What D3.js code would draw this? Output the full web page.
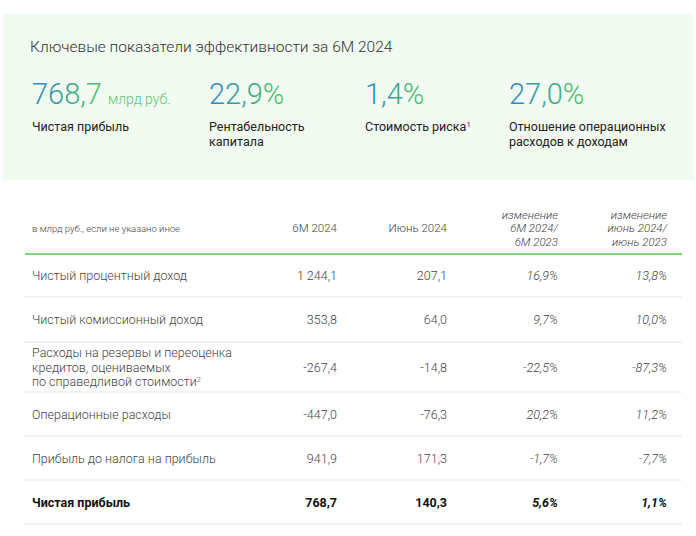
<!DOCTYPE html>
<html><head><meta charset="utf-8">
<script src="https://cdn.jsdelivr.net/npm/d3@7"></script>
<style>
html,body{margin:0;padding:0;background:#fff;}
svg{display:block;font-family:Roboto,"Open Sans",sans-serif;}
</style></head>
<body><svg id="c" width="696" height="536"></svg>
<script>
// ---- data ----
const title = "Ключевые показатели эффективности за 6М 2024";
const kpiValues = ["768,7", "22,9%", "1,4%", "27,0%"];
const kpiUnits = ["млрд руб.", "", "", ""];
const kpiLabels = [["Чистая прибыль"], ["Рентабельность", "капитала"], ["Стоимость риска|1"], ["Отношение операционных", "расходов к доходам"]];

const columnHeaders = [["в млрд руб., если не указано иное"], ["6М 2024"], ["Июнь 2024"], ["изменение", "6М 2024/", "6М 2023"], ["изменение", "июнь 2024/", "июнь 2023"]];
const rowLabels = [["Чистый процентный доход"], ["Чистый комиссионный доход"], ["Расходы на резервы и переоценка", "кредитов, оцениваемых", "по справедливой стоимости|2"], ["Операционные расходы"], ["Прибыль до налога на прибыль"], ["Чистая прибыль"]];
const h1Values = ["1 244,1", "353,8", "-267,4", "-447,0", "941,9", "768,7"];
const juneValues = ["207,1", "64,0", "-14,8", "-76,3", "171,3", "140,3"];
const chg6M = ["16,9%", "9,7%", "-22,5%", "20,2%", "-1,7%", "5,6%"];
const chgJune = ["13,8%", "10,0%", "-87,3%", "11,2%", "-7,7%", "1,1%"];
const boldRow = [false, false, false, false, false, true];

// ---- drawing ----
const svg = d3.select("#c");
const defs = svg.append("defs");
const grad = defs.append("linearGradient").attr("id", "kg").attr("x1", "0").attr("x2", "1").attr("y1", "0").attr("y2", "0");
grad.append("stop").attr("offset", "0%").attr("stop-color", "#2b85c6");
grad.append("stop").attr("offset", "100%").attr("stop-color", "#4cc462");

svg.append("rect").attr("x", 3).attr("y", 14).attr("width", 691).attr("height", 166).attr("fill", "#f2fbf1");

svg.append("text").attr("x", 30).attr("y", 52).attr("font-size", 15.5).attr("font-weight", 300).attr("fill", "#333").text(title);

const kx = d3.scaleOrdinal().domain(d3.range(4)).range([32, 209, 365, 509]);
const kg = svg.selectAll("g.kpi").data(kpiValues).join("g").attr("class", "kpi").attr("transform", (d, i) => `translate(${kx(i)},0)`);
kg.append("text").attr("y", 104).attr("font-size", 29).attr("font-weight", 300).attr("fill", "url(#kg)").text(d => d);
kg.each(function (d, i) {
  if (!kpiUnits[i]) return;
  const w = this.querySelector("text").getComputedTextLength();
  d3.select(this).append("text").attr("x", w + 6).attr("y", 104).attr("font-size", 14).attr("font-weight", 300).attr("fill", "#5dc470").text(kpiUnits[i]);
});
function addLines(sel, lines, x, y0, lh, anchor) {
  lines.forEach((ln, j) => {
    const t = sel.append("text").attr("x", x).attr("y", y0 + j * lh).attr("text-anchor", anchor);
    const parts = ln.split("|");
    t.append("tspan").text(parts[0]);
    if (parts[1]) t.append("tspan").attr("font-size", "0.6em").attr("dy", "-0.6em").text(parts[1]);
  });
}
kg.each(function (d, i) {
  const g = d3.select(this).append("g").attr("font-size", 12.5).attr("fill", "#222");
  addLines(g, kpiLabels[i], 0, 131, 15, "start");
});

// table
const colRight = d3.scaleOrdinal().domain(d3.range(5)).range([32, 337, 447, 558, 667]);
const rowEdges = d3.scaleOrdinal().domain(d3.range(7)).range([254, 297, 342, 392, 436, 480, 524]);

const hg = svg.append("g");
columnHeaders.forEach((h, c) => {
  const g = hg.append("g").attr("fill", "#444").attr("font-weight", 300)
    .attr("font-size", c === 0 ? 9.5 : 11.5).attr("font-style", c >= 3 ? "italic" : "normal");
  const n = h.length;
  const y0 = 232 - (n - 1) * 13.5 / 2;
  addLines(g, h, colRight(c), y0, 13.5, c === 0 ? "start" : "end");
});

svg.append("line").attr("x1", 25).attr("x2", 682).attr("y1", rowEdges(0)).attr("y2", rowEdges(0)).attr("stroke", "#7fd07f").attr("stroke-width", 2);

rowLabels.forEach((lbl, r) => {
  const top = rowEdges(r), bot = rowEdges(r + 1);
  const cy = (top + bot) / 2;
  const g = svg.append("g").attr("font-size", 12.5).attr("fill", boldRow[r] ? "#111" : "#444").attr("font-weight", boldRow[r] ? 700 : 300);
  const n = lbl.length;
  addLines(g, lbl, colRight(0), cy + 4.5 - (n - 1) * 14.5 / 2, 14.5, "start");
  const vals = [h1Values[r], juneValues[r], chg6M[r], chgJune[r]];
  vals.forEach((v, c) => {
    g.append("text").attr("x", colRight(c + 1)).attr("y", cy + 4.5).attr("text-anchor", "end")
      .attr("font-style", c >= 2 ? "italic" : "normal").text(v);
  });
  svg.append("line").attr("x1", 24).attr("x2", 682).attr("y1", bot).attr("y2", bot).attr("stroke", "#e4e4e4").attr("stroke-width", 1);
});
</script></body></html>
